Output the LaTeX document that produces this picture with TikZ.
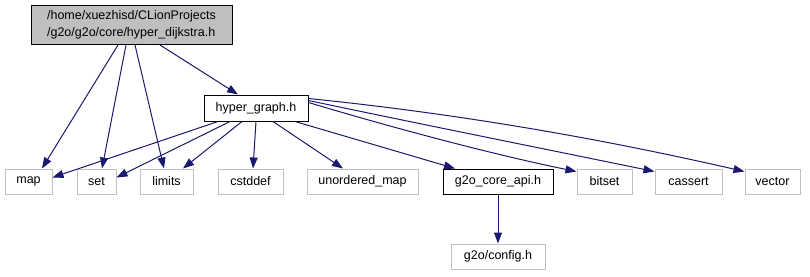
\documentclass[tikz,border=0pt]{standalone}
\usepackage{fontspec}
\setmainfont{Liberation Sans}
\usetikzlibrary{arrows.meta}
\definecolor{edgeblue}{HTML}{191970}
\definecolor{boxgrey}{HTML}{BFBFBF}
\definecolor{rootfill}{HTML}{BFBFBF}
\tikzset{
  file/.style={draw=boxgrey, line width=1pt, fill=white, inner sep=0pt,
    font=\fontsize{12.5}{14}\selectfont, text=black},
  docfile/.style={file, draw=black},
  rootfile/.style={file, draw=black, fill=rootfill, align=left,
    font=\fontsize{12.5}{16.5}\selectfont},
  dep/.style={draw=edgeblue, line width=1pt,
    -{Triangle[length=11pt,width=8pt]}, color=edgeblue}
}
\begin{document}
\begin{tikzpicture}[x=1pt,y=-1pt]
\useasboundingbox (0,0) rectangle (810,276);
% source file
\node[rootfile, minimum width=201pt, minimum height=39pt] (root) at (131.5,25)
  {/home/xuezhisd/CLionProjects\\/g2o/g2o/core/hyper\_dijkstra.h};
% documented headers
\node[docfile, minimum width=104pt, minimum height=26pt] (hg) at (256,108) {hyper\_graph.h};
\node[docfile, minimum width=110pt, minimum height=25pt] (api) at (498,181.5) {g2o\_core\_api.h};
% system headers
\node[file, minimum width=47pt, minimum height=25pt] (map) at (28.5,181.5) {map};
\node[file, minimum width=39pt, minimum height=25pt] (set) at (96.5,181.5) {set};
\node[file, minimum width=53pt, minimum height=25pt] (limits) at (166.5,181.5) {limits};
\node[file, minimum width=65pt, minimum height=25pt] (cstddef) at (250.5,181.5) {cstddef};
\node[file, minimum width=111pt, minimum height=25pt] (umap) at (362.5,181.5) {unordered\_map};
\node[file, minimum width=55pt, minimum height=25pt] (bitset) at (604.5,181.5) {bitset};
\node[file, minimum width=67pt, minimum height=25pt] (cassert) at (688.5,181.5) {cassert};
\node[file, minimum width=55pt, minimum height=25pt] (vector) at (772.5,181.5) {vector};
\node[file, minimum width=94pt, minimum height=25pt] (config) at (498,256.5) {g2o/config.h};
% includes of hyper_dijkstra.h
\draw[dep] ([xshift=-13.5pt]root.south) -- ([xshift=13.5pt]map.north);
\draw[dep] ([xshift=-5.5pt]root.south) -- ([xshift=5.5pt]set.north);
\draw[dep] ([xshift=3.5pt]root.south) -- ([xshift=-2.5pt]limits.north);
\draw[dep] ([xshift=28.5pt]root.south) -- ([xshift=-18pt]hg.north);
% includes of hyper_graph.h
\draw[dep] ([xshift=-38pt]hg.south) -- ([yshift=-9pt]map.north east);
\draw[dep] ([xshift=-26pt]hg.south) -- ([yshift=-9pt]set.north east);
\draw[dep] ([xshift=-14pt]hg.south) -- ([xshift=16.5pt]limits.north);
\draw[dep] ([xshift=0pt]hg.south) -- ([xshift=2.5pt]cstddef.north);
\draw[dep] ([xshift=17pt]hg.south) -- ([xshift=-19.5pt]umap.north);
\draw[dep] ([xshift=39pt]hg.south) -- ([xshift=-43pt]api.north);
\draw[dep] ([yshift=-8pt]hg.north east) .. controls (400,130) and (500,156) .. ([yshift=-3pt]bitset.north west);
\draw[dep] ([yshift=-6pt]hg.north east) .. controls (420,124) and (540,148) .. ([yshift=-3pt]cassert.north west);
\draw[dep] ([yshift=-4pt]hg.north east) .. controls (500,118) and (650,150) .. ([yshift=-3pt]vector.north west);
% includes of g2o_core_api.h
\draw[dep] (api) -- (config);
\end{tikzpicture}
\end{document}
